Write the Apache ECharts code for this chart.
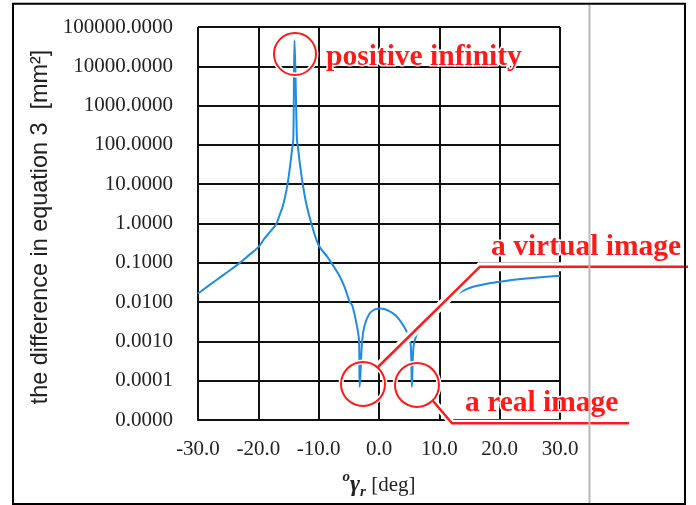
<!DOCTYPE html>
<html>
<head>
<meta charset="utf-8">
<script src="https://cdn.jsdelivr.net/npm/echarts@6/dist/echarts.min.js"></script>
<style>
html,body{margin:0;padding:0;background:#fff;}
#chart{width:696px;height:505px;}
</style>
</head>
<body>
<div id="chart"></div>
<script>
// Angle values (deg)
const angles = [-30, -27, -25, -23.4, -21.7, -20, -19, -18, -17, -16.5, -15.9, -15.2, -14.8, -14.4, -14.2, -14.0,
  -13.6, -13.4, -13.0, -12.6, -12.0, -11.2, -10.0, -8.5, -7.3, -6.5, -5.7, -4.86, -4.4, -3.6, -3.3, -3.2,
  -2.8, -2.37, -1.54, -0.6, 0.2, 1.0, 1.77, 2.6, 3.43, 4.2, 4.8, 5.26, 5.45, 5.75, 6.47, 9,
  12.5, 15.6, 20, 24.4, 30];
// Difference in equation 3 (mm^2); '-' marks the hidden stretch
const diffs = [0.0166, 0.036, 0.060, 0.091, 0.15, 0.25, 0.41, 0.63, 0.99, 1.6, 2.9, 9.2, 24.5, 78, 141, 46000,
  141, 78, 24.5, 9.2, 2.9, 0.99, 0.28, 0.138, 0.072, 0.045, 0.024, 0.0102, 0.0080, 0.0022, 0.0010, 0.00007,
  0.0010, 0.0026, 0.0052, 0.0066, 0.0069, 0.0066, 0.0058, 0.0048, 0.0035, 0.0023, 0.0015, 0.0008, 0.00007, 0.0008, 0.0018, '-',
  0.015, 0.0245, 0.033, 0.040, 0.047];
const xTicks = [-30, -20, -10, 0, 10, 20, 30];
const yTicks = [0.00001, 0.0001, 0.001, 0.01, 0.1, 1, 10, 100, 1000, 10000, 100000];

const seriesData = angles.map((a, i) => [a, diffs[i]]);

const chart = echarts.init(document.getElementById('chart'), null, {renderer: 'canvas'});
const serif = '"Liberation Serif", "Times New Roman", serif';
const sans = '"Liberation Sans", Arial, sans-serif';
const red = '#ff1a1a';
const annFont = 'bold 29.5px ' + serif;

chart.setOption({
  animation: false,
  backgroundColor: '#fff',
  grid: {left: 198, top: 27, right: 136, bottom: 83, containLabel: false},
  xAxis: {
    type: 'value',
    min: xTicks[0], max: xTicks[xTicks.length - 1], interval: 10,
    axisLine: {show: true, onZero: false, lineStyle: {color: '#111', width: 2}},
    axisTick: {show: false},
    splitLine: {show: true, lineStyle: {color: '#111', width: 2}},
    axisLabel: {margin: 19, color: '#222', fontFamily: serif, fontSize: 21,
      formatter: v => v.toFixed(1)},
    name: '{sup|o}{g|γ}{sub|r}{n| [deg]}',
    nameLocation: 'middle', nameGap: 50,
    nameTextStyle: {
      color: '#222', fontFamily: serif, fontSize: 21,
      rich: {
        sup: {fontSize: 15, fontStyle: 'italic', fontWeight: 'bold', fontFamily: serif, color: '#222', verticalAlign: 'top', lineHeight: 30},
        g: {fontSize: 24, fontStyle: 'italic', fontWeight: 'bold', fontFamily: serif, color: '#222', lineHeight: 30},
        sub: {fontSize: 15, fontStyle: 'italic', fontWeight: 'bold', fontFamily: serif, color: '#222', verticalAlign: 'bottom', lineHeight: 30},
        n: {fontSize: 21, fontFamily: serif, color: '#222', lineHeight: 30}
      }
    }
  },
  yAxis: {
    type: 'log', logBase: 10,
    min: yTicks[0], max: yTicks[yTicks.length - 1], interval: 1,
    axisLine: {show: true, lineStyle: {color: '#111', width: 2}},
    axisTick: {show: false},
    minorTick: {show: false},
    splitLine: {show: true, lineStyle: {color: '#111', width: 2}},
    axisLabel: {margin: 25, color: '#222', fontFamily: serif, fontSize: 21,
      formatter: v => Number(v).toFixed(4)},
    name: 'the difference in equation 3  [mm²]',
    nameLocation: 'middle', nameGap: 143, nameRotate: 90,
    nameTextStyle: {color: '#222', fontFamily: sans, fontSize: 23.4, padding: [0, 7, 0, 0]}
  },
  series: [{
    type: 'line',
    data: seriesData,
    showSymbol: false,
    smooth: 0.35,
    connectNulls: false,
    lineStyle: {color: '#1f8be2', width: 2},
    z: 3
  }],
  graphic: [
    // outer frame
    {type: 'rect', z: 200, silent: true, shape: {x: 13, y: 3.7, width: 672, height: 500.3},
      style: {fill: 'none', stroke: '#000', lineWidth: 2}},
    {type: 'line', z: 200, silent: true, shape: {x1: 589.5, y1: 5, x2: 589.5, y2: 503},
      style: {stroke: '#b8b8b8', lineWidth: 2}},
    // positive infinity
    {type: 'circle', z: 150, silent: true, shape: {cx: 295, cy: 54, r: 21},
      style: {fill: 'none', stroke: '#fff', lineWidth: 5}},
    {type: 'circle', z: 151, silent: true, shape: {cx: 295, cy: 54, r: 21},
      style: {fill: 'none', stroke: red, lineWidth: 2}},
    {type: 'text', z: 152, silent: true, x: 326, y: 57,
      style: {text: 'positive infinity', fill: red, font: annFont, verticalAlign: 'middle',
        stroke: '#fff', lineWidth: 3}},
    // virtual image
    {type: 'polyline', z: 150, silent: true, shape: {points: [[378, 367], [480, 266.7], [688, 266.7]]},
      style: {fill: 'none', stroke: '#fff', lineWidth: 9}},
    {type: 'circle', z: 150, silent: true, shape: {cx: 363, cy: 384, r: 22},
      style: {fill: 'none', stroke: '#fff', lineWidth: 5}},
    {type: 'circle', z: 150, silent: true, shape: {cx: 417, cy: 385, r: 22},
      style: {fill: 'none', stroke: '#fff', lineWidth: 5}},
    {type: 'polyline', z: 150, silent: true, shape: {points: [[433, 401], [452, 423.3], [629, 423.3]]},
      style: {fill: 'none', stroke: '#fff', lineWidth: 7}},
    {type: 'polyline', z: 151, silent: true, shape: {points: [[378, 367], [480, 266.7], [688, 266.7]]},
      style: {fill: 'none', stroke: red, lineWidth: 2.5}},
    {type: 'circle', z: 151, silent: true, shape: {cx: 363, cy: 384, r: 22},
      style: {fill: 'none', stroke: red, lineWidth: 2}},
    {type: 'text', z: 152, silent: true, x: 491, y: 247,
      style: {text: 'a virtual image', fill: red, font: annFont, verticalAlign: 'middle',
        stroke: '#fff', lineWidth: 3}},
    // real image
    {type: 'circle', z: 151, silent: true, shape: {cx: 417, cy: 385, r: 22},
      style: {fill: 'none', stroke: red, lineWidth: 2}},
    {type: 'polyline', z: 151, silent: true, shape: {points: [[433, 401], [452, 423.3], [629, 423.3]]},
      style: {fill: 'none', stroke: red, lineWidth: 2.5}},
    {type: 'text', z: 152, silent: true, x: 465, y: 403,
      style: {text: 'a real image', fill: red, font: annFont, verticalAlign: 'middle',
        stroke: '#fff', lineWidth: 3}}
  ]
});
</script>
</body>
</html>
